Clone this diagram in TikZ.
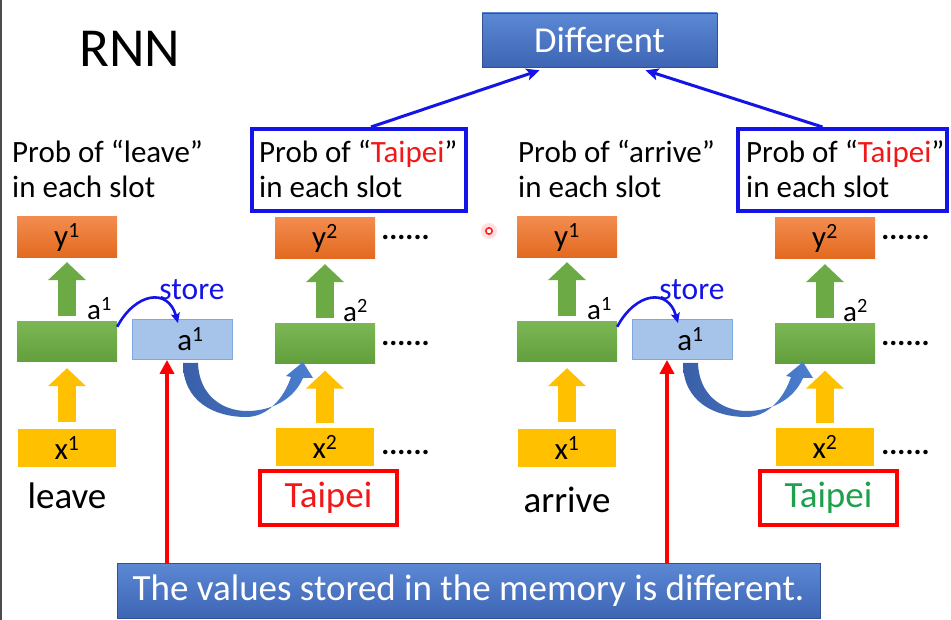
\documentclass[tikz,border=0pt]{standalone}
\usepackage{fontspec}
\setmainfont{Carlito}
\usetikzlibrary{arrows.meta,calc}
\definecolor{orangeT}{HTML}{F28C4E}
\definecolor{orangeB}{HTML}{E2691F}
\definecolor{greenT}{HTML}{7BB654}
\definecolor{greenB}{HTML}{62A03C}
\definecolor{garr}{HTML}{6BAA44}
\definecolor{ylw}{HTML}{FFC000}
\definecolor{memfill}{HTML}{A6C4EA}
\definecolor{memdraw}{HTML}{7FA8DE}
\definecolor{bannerT}{HTML}{5C88D4}
\definecolor{bannerB}{HTML}{3D65B4}
\definecolor{pblue}{HTML}{1414E6}
\definecolor{curveA}{HTML}{3A5FA8}
\definecolor{curveB}{HTML}{4A7ED0}
\definecolor{tgreen}{HTML}{1EA04C}
\definecolor{tred}{HTML}{F01818}
\newcommand\fsz[1]{\fontsize{#1}{#1}\selectfont}
\tikzset{
  ybox/.style={minimum width=100pt, minimum height=41pt, inner sep=0pt, top color=orangeT, bottom color=orangeB, font=\fsz{31}},
  gbox/.style={minimum width=100pt, minimum height=40pt, inner sep=0pt, top color=greenT, bottom color=greenB},
  xbox/.style={minimum width=98pt, minimum height=38pt, inner sep=0pt, fill=ylw, font=\fsz{31}},
  membox/.style={minimum width=100pt, minimum height=40pt, inner sep=0pt, fill=memfill, draw=memdraw, line width=0.8pt, font=\fsz{31}},
  tbox/.style={minimum width=137pt, minimum height=54pt, inner sep=0pt, draw=red, line width=4pt, font=\fsz{37}},
  pbox/.style={minimum height=82pt, inner sep=0pt, draw=pblue, line width=4pt},
  ptext/.style={anchor=base west, inner sep=0pt, font=\fsz{31}},
  word/.style={anchor=base, inner sep=0pt, font=\fsz{37}},
  dotsx/.style={inner sep=0pt, font=\bfseries\fsz{30}},
  alab/.style={anchor=base west, inner sep=0pt, font=\fsz{29}},
  garrow/.style={draw=garr, line width=18pt, -{Triangle[length=18pt,width=37pt]}},
  yarrow/.style={draw=ylw, line width=18pt, -{Triangle[length=18pt,width=37pt]}},
  parrow/.style={draw=pblue, line width=3pt, -{Stealth[length=13pt,width=12pt,inset=3pt]}},
  sarrow/.style={draw=pblue, line width=2.6pt, -{Stealth[length=10pt,width=9pt,inset=2pt]}},
  rarrow/.style={draw=red, line width=4pt, -{Triangle[length=14pt,width=14pt]}},
  bluebar/.style={inner sep=0pt, top color=bannerT, bottom color=bannerB, draw=bannerB!80!black, line width=0.6pt, text=white}
}
\newcommand\rnnhalf[5]{%
\begin{scope}[xshift=#1pt]
  \node[ybox] (y1#2) at (67,237.5) {y\textsuperscript{1}};
  \node[gbox] (g1#2) at (67,342) {};
  \node[membox] (mem#2) at (182.5,339.5) {\hspace*{16pt}a\textsuperscript{1}};
  \node[ybox] (y2#2) at (325,238.5) {y\textsuperscript{2}};
  \node[gbox] (g2#2) at (325,343.5) {};
  \node[xbox] (x1#2) at (67,448) {x\textsuperscript{1}};
  \node[xbox] (x2#2) at (325,446.5) {x\textsuperscript{2}};
  \node[tbox, text=#4] (tp#2) at (328.5,498) {Taipei};
  \node[word] (w#2) at (67,#5) {#3};
  \node[dotsx] (dy#2) at (405.5,237) {......};
  \node[dotsx] (dg#2) at (405.5,343) {......};
  \node[dotsx] (dx#2) at (405.5,452) {......};
  \node[alab] (a1#2) at (87,320) {a\textsuperscript{1}};
  \node[alab] (a2#2) at (343,322) {a\textsuperscript{2}};
  \node[inner sep=0pt, text=pblue, font=\fsz{31.5}] (st#2) at (192,290) {store};
  % green arrows
  \draw[garrow] ([yshift=6pt]g1#2.north) -- ([yshift=-4pt]y1#2.south);
  \draw[garrow] ([yshift=5pt]g2#2.north) -- ([yshift=-5pt]y2#2.south);
  % yellow arrows
  \draw[yarrow] ([yshift=7pt]x1#2.north) -- ([yshift=-6pt]g1#2.south);
  \draw[yarrow] ([yshift=4pt]x2#2.north) -- ([yshift=-7pt]g2#2.south);
  % store arrow
  \draw[sarrow] ([yshift=-5pt]g1#2.north east) .. controls +(18,-34) and +(-10,-36) .. ([xshift=-4.5pt,yshift=-4pt]mem#2.north);
  % curved block arrow from memory to next step
  \shade[left color=curveA, right color=curveB]
    (183,363) .. controls (183,402) and (215,417) .. (246,417)
    .. controls (268,417) and (284,398) .. (291,377)
    -- (286,376) -- (303,362) -- (313,378) -- (303,378)
    .. controls (294,399) and (272,411) .. (247,411)
    .. controls (222,411) and (199,395) .. (198,363) -- cycle;
  % red arrow
  \coordinate (r#2) at ([xshift=-15.5pt]mem#2.south);
  \draw[rarrow] (r#2 |- banner.north) -- (r#2);
\end{scope}}

\begin{document}
\begin{tikzpicture}[x=1pt,y=-1pt]
\useasboundingbox (0,0) rectangle (951,620);
\fill[white] (0,0) rectangle (951,620);
\draw[gray!60!black, line width=1.5pt] (0.75,0) -- (0.75,620);

\node[anchor=base west, inner sep=0pt, font=\fsz{55}] (rnn) at (79,67) {RNN};
\node[bluebar, minimum width=235pt, minimum height=54pt, font=\fsz{36.5}] (diff) at (599.5,40) {Different};
\node[bluebar, minimum width=703pt, minimum height=55pt, font=\fsz{37}] (banner) at (468.5,590.5) {The values stored in the memory is different.};

% probability labels
\node[ptext] (pl1) at (12,163) {Prob of “leave”};
\node[ptext] (pl2) at (12,198) {in each slot};
\node[ptext] (pr1) at (518,163) {Prob of “arrive”};
\node[ptext] (pr2) at (518,198) {in each slot};
\node[pbox, minimum width=214pt] (pL) at (359,170) {};
\node[pbox, minimum width=209pt] (pR) at (842.5,170) {};
\node[ptext] (pt1) at (259,163) {Prob of “\textcolor{tred}{Taipei}”};
\node[ptext] (pt2) at (259,198) {in each slot};
\node[ptext] (pt3) at (746,163) {Prob of “\textcolor{tred}{Taipei}”};
\node[ptext] (pt4) at (746,198) {in each slot};

\draw[parrow] ([xshift=12pt]pL.north) -- ([xshift=-60pt,yshift=-3pt]diff.south);
\draw[parrow] ([xshift=-20pt]pR.north) -- ([xshift=46pt,yshift=-3pt]diff.south);

\rnnhalf{0}{L}{leave}{tred}{508}
\rnnhalf{500}{R}{arrive}{tgreen}{512}

% laser pointer dot
\fill[red!12] (489,231) circle (8pt);
\draw[red!85, line width=1.6pt, fill=white] (489,231) circle (3.2pt);
\end{tikzpicture}
\end{document}
